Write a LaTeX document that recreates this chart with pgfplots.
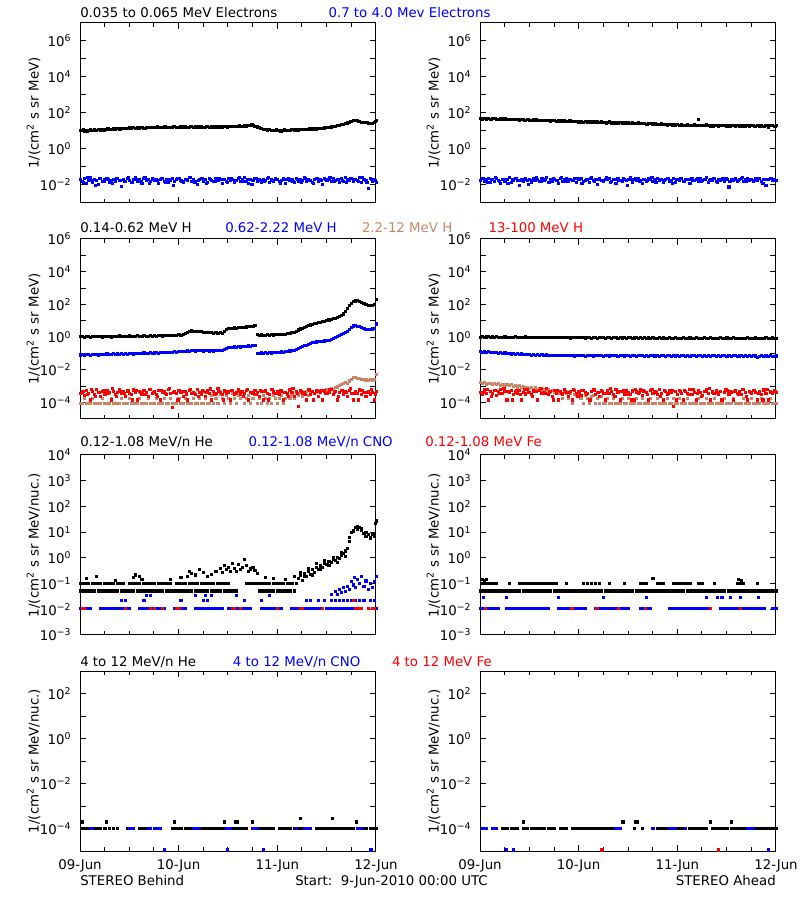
\documentclass[border=0pt]{standalone}
\usepackage{pgfplots}
\pgfplotsset{compat=1.18}
\usepackage{pgfplotstable}
\usepackage{fontspec}
\setmainfont{DejaVu Sans}
\definecolor{brn}{RGB}{204,132,104}
\newcommand{\tn}[1]{10\textsuperscript{#1}}
\pgfplotsset{
  stpanel/.style={
    scale only axis, width=222pt, height=135pt, anchor=south west,
    xmin=0, xmax=72,
    xtick={0,24,48,72}, minor xtick={6,12,18,30,36,42,54,60,66},
    xticklabels={},
    tick align=inside, major tick length=4.5pt, minor tick length=2.7pt,
    axis line style={line width=0.75pt},
    every tick/.append style={black, line width=0.75pt},
    tick label style={font=\fontsize{10}{12}\selectfont},
    yticklabel style={xshift=-3pt},
    xticklabel style={yshift=-3pt},
    label style={font=\fontsize{10}{12}\selectfont},
    every axis y label/.style={at={(axis description cs:-0.157,0.5)},rotate=90,anchor=center},
    ylabel={1/(cm\textsuperscript{2} s sr MeV)},
  },
  stdots/.style={only marks, mark=square*, mark size=0.8pt, mark options={line width=0.3pt}},
}
\pgfplotstableread[row sep=\\]{
t bk bl\\
0 10.5 0.021\\ 0.5 11.2 0.016\\ 1 10.2 0.024\\ 1.5 11.6 0.013\\ 2 10.8 0.019\\ 2.5 11.9 0.026\\
3 11.0 0.015\\ 3.5 12.2 0.022\\ 4 11.4 0.018\\ 4.5 12.6 0.011\\ 5 11.8 0.023\\ 5.5 12.4 0.017\\
6 13.0 0.020\\ 6.5 12.2 0.025\\ 7 13.1 0.014\\ 7.5 12.7 0.019\\ 8 13.8 0.022\\ 8.5 12.9 0.016\\
9 14.0 0.024\\ 9.5 13.3 0.018\\ 10 14.4 0.009\\ 10.5 13.6 0.021\\ 11 14.8 0.017\\ 11.5 14.1 0.023\\
12 15.2 0.019\\ 12.5 14.6 0.015\\ 13 15.5 0.022\\ 13.5 14.9 0.026\\ 14 16.1 0.017\\ 14.5 15.3 0.020\\
15 16.4 0.013\\ 15.5 15.0 0.024\\ 16 16.8 0.018\\ 16.5 15.6 0.021\\ 17 16.2 0.016\\ 17.5 15.4 0.023\\
18 16.9 0.018\\ 18.5 16.0 0.022\\ 19 17.1 0.012\\ 19.5 15.8 0.020\\ 20 16.6 0.025\\ 20.5 17.4 0.017\\
21 16.2 0.021\\ 21.5 15.7 0.015\\ 22 17.0 0.019\\ 22.5 16.4 0.024\\ 23 17.6 0.016\\ 23.5 16.1 0.020\\
24 16.8 0.023\\ 24.5 17.3 0.018\\ 25 16.5 0.014\\ 25.5 17.8 0.021\\ 26 16.9 0.019\\ 26.5 16.3 0.026\\
27 17.5 0.016\\ 27.5 16.7 0.022\\ 28 18.0 0.017\\ 28.5 17.2 0.011\\ 29 16.6 0.020\\ 29.5 17.9 0.024\\
30 17.0 0.017\\ 30.5 16.4 0.021\\ 31 17.6 0.015\\ 31.5 17.1 0.023\\ 32 18.2 0.019\\ 32.5 16.9 0.016\\
33 17.4 0.025\\ 33.5 18.1 0.018\\ 34 17.3 0.022\\ 34.5 16.8 0.013\\ 35 17.7 0.020\\ 35.5 18.4 0.017\\
36 17.5 0.024\\ 36.5 17.9 0.019\\ 37 18.6 0.021\\ 37.5 17.6 0.014\\ 38 18.9 0.018\\ 38.5 18.2 0.023\\
39 19.3 0.016\\ 39.5 18.6 0.020\\ 40 19.8 0.026\\ 40.5 19.1 0.017\\ 41 20.4 0.012\\ 41.5 21.5 0.022\\
42 20.2 0.019\\ 42.5 19.0 0.024\\ 43 17.2 0.016\\ 43.5 15.8 0.021\\ 44 14.2 0.015\\ 44.5 13.1 0.022\\
45 12.4 0.018\\ 45.5 11.6 0.025\\ 46 12.0 0.014\\ 46.5 11.2 0.020\\ 47 10.8 0.017\\ 47.5 11.5 0.023\\
48 10.6 0.021\\ 48.5 11.0 0.016\\ 49 10.4 0.019\\ 49.5 11.3 0.024\\ 50 10.9 0.013\\ 50.5 11.6 0.022\\
51 11.1 0.018\\ 51.5 12.0 0.020\\ 52 11.4 0.015\\ 52.5 12.2 0.023\\ 53 11.7 0.017\\ 53.5 12.5 0.021\\
54 12.0 0.019\\ 54.5 12.8 0.026\\ 55 12.3 0.016\\ 55.5 13.2 0.022\\ 56 12.6 0.018\\ 56.5 13.5 0.014\\
57 14.0 0.021\\ 57.5 13.3 0.024\\ 58 14.4 0.017\\ 58.5 14.8 0.020\\ 59 14.1 0.011\\ 59.5 15.3 0.023\\
60 15.9 0.018\\ 60.5 16.5 0.022\\ 61 17.2 0.016\\ 61.5 18.0 0.025\\ 62 19.1 0.019\\ 62.5 20.3 0.021\\
63 21.5 0.015\\ 63.5 22.8 0.023\\ 64 24.4 0.017\\ 64.5 26.5 0.027\\ 65 29.0 0.020\\ 65.5 32.0 0.018\\
66 35.5 0.024\\ 66.5 38.5 0.016\\ 67 40.5 0.021\\ 67.5 38.0 0.019\\ 68 35.2 0.026\\ 68.5 32.4 0.014\\
69 30.5 0.022\\ 69.5 29.2 0.018\\ 70 28.0 0.007\\ 70.5 27.4 0.023\\ 71 28.6 0.017\\ 71.5 31.5 0.020\\ 72 38.0 0.015\\
}\RoneL
\pgfplotstableread[row sep=\\]{
t bk bl\\
0.75 11.8 0.015\\ 1.75 10.4 0.027\\ 2.75 11.3 0.018\\ 3.75 11.0 0.010\\ 4.75 12.9 0.024\\ 5.75 11.9 0.016\\
6.75 13.4 0.022\\ 7.75 12.2 0.013\\ 8.75 14.3 0.025\\ 9.75 13.0 0.019\\ 10.75 15.0 0.016\\ 11.75 13.8 0.028\\
12.75 15.9 0.014\\ 13.75 14.4 0.021\\ 14.75 16.6 0.017\\ 15.75 15.1 0.026\\ 16.75 17.1 0.012\\ 17.75 15.6 0.022\\
18.75 17.6 0.018\\ 19.75 16.1 0.025\\ 20.75 17.9 0.015\\ 21.75 15.9 0.020\\ 22.75 17.8 0.010\\ 23.75 16.3 0.024\\
24.75 18.2 0.017\\ 25.75 16.4 0.021\\ 26.75 18.3 0.027\\ 27.75 16.6 0.015\\ 28.75 18.4 0.019\\ 29.75 16.5 0.023\\
30.75 18.5 0.013\\ 31.75 16.7 0.022\\ 32.75 18.6 0.017\\ 33.75 16.9 0.025\\ 34.75 18.7 0.020\\ 35.75 17.2 0.014\\
36.75 19.2 0.023\\ 37.75 17.9 0.018\\ 38.75 19.8 0.026\\ 39.75 18.8 0.016\\ 40.75 21.2 0.021\\ 41.75 22.4 0.011\\
42.75 18.1 0.024\\ 43.75 15.0 0.019\\ 44.75 12.9 0.016\\ 45.75 12.5 0.027\\ 46.75 10.9 0.018\\ 47.75 11.8 0.022\\
48.75 10.3 0.013\\ 49.75 11.8 0.020\\ 50.75 10.8 0.025\\ 51.75 12.4 0.017\\ 52.75 11.4 0.021\\ 53.75 12.9 0.015\\
54.75 12.1 0.023\\ 55.75 13.6 0.019\\ 56.75 13.0 0.012\\ 57.75 14.9 0.024\\ 58.75 14.0 0.018\\ 59.75 16.2 0.021\\
60.75 16.2 0.026\\ 61.75 19.2 0.016\\ 62.75 20.1 0.022\\ 63.75 24.5 0.019\\ 64.75 26.8 0.014\\ 65.75 35.0 0.024\\
66.75 41.5 0.020\\ 67.75 35.8 0.017\\ 68.75 30.3 0.027\\ 69.75 29.9 0.015\\ 70.75 26.6 0.021\\ 71.75 33.5 0.018\\
}\RoneLb
\pgfplotstableread[row sep=\\]{
t bk bl\\
0 51 0.018\\ 0.5 48 0.023\\ 1 52 0.016\\ 1.5 47 0.021\\ 2 50 0.025\\ 2.5 46 0.014\\
3 49 0.020\\ 3.5 52 0.017\\ 4 47 0.024\\ 4.5 45 0.019\\ 5 49 0.012\\ 5.5 46 0.022\\
6 48 0.017\\ 6.5 44 0.021\\ 7 47 0.026\\ 7.5 45 0.015\\ 8 43 0.019\\ 8.5 46 0.023\\
9 44 0.018\\ 9.5 42 0.010\\ 10 45 0.022\\ 10.5 43 0.016\\ 11 41 0.024\\ 11.5 44 0.019\\
12 42 0.021\\ 12.5 40 0.014\\ 13 43 0.025\\ 13.5 41 0.018\\ 14 39 0.020\\ 14.5 42 0.016\\
15 40 0.023\\ 15.5 38 0.019\\ 16 41 0.027\\ 16.5 39 0.015\\ 17 37 0.021\\ 17.5 40 0.017\\
18 38 0.022\\ 18.5 36 0.019\\ 19 39 0.013\\ 19.5 37 0.024\\ 20 35 0.017\\ 20.5 38 0.020\\
21 36 0.025\\ 21.5 34 0.016\\ 22 37 0.021\\ 22.5 35 0.018\\ 23 34 0.023\\ 23.5 36 0.014\\
24 33 0.020\\ 24.5 35 0.024\\ 25 32 0.017\\ 25.5 34 0.019\\ 26 31 0.022\\ 26.5 33 0.015\\
27 35 0.026\\ 27.5 32 0.018\\ 28 30 0.021\\ 28.5 33 0.011\\ 29 31 0.023\\ 29.5 34 0.019\\
30 32 0.016\\ 30.5 30 0.022\\ 31 31 0.020\\ 31.5 33 0.025\\ 32 29 0.017\\ 32.5 31 0.021\\
33 30 0.013\\ 33.5 28 0.024\\ 34 31 0.019\\ 34.5 29 0.016\\ 35 30 0.022\\ 35.5 28 0.018\\
36 29 0.020\\ 36.5 27 0.026\\ 37 30 0.015\\ 37.5 28 0.021\\ 38 26 0.018\\ 38.5 29 0.023\\
39 27 0.019\\ 39.5 28 0.012\\ 40 26 0.022\\ 40.5 25 0.017\\ 41 27 0.024\\ 41.5 26 0.020\\
42 24 0.016\\ 42.5 26 0.021\\ 43 25 0.025\\ 43.5 23 0.018\\ 44 26 0.022\\ 44.5 24 0.014\\
45 25 0.020\\ 45.5 22 0.024\\ 46 24 0.017\\ 46.5 23 0.019\\ 47 25 0.023\\ 47.5 22 0.015\\
48 23 0.021\\ 48.5 21 0.018\\ 49 24 0.025\\ 49.5 22 0.016\\ 50 20 0.020\\ 50.5 23 0.022\\
51 22 0.013\\ 51.5 21 0.024\\ 52 23 0.019\\ 52.5 20 0.021\\ 53 44 0.017\\ 53.5 21 0.023\\
54 22 0.018\\ 54.5 20 0.020\\ 55 23 0.026\\ 55.5 21 0.015\\ 56 19 0.022\\ 56.5 22 0.019\\
57 20 0.024\\ 57.5 21 0.016\\ 58 19 0.021\\ 58.5 22 0.018\\ 59 20 0.023\\ 59.5 21 0.017\\
60 19 0.020\\ 60.5 21 0.008\\ 61 20 0.022\\ 61.5 22 0.019\\ 62 18 0.025\\ 62.5 21 0.016\\
63 19 0.021\\ 63.5 20 0.023\\ 64 22 0.017\\ 64.5 19 0.020\\ 65 21 0.024\\ 65.5 18 0.018\\
66 20 0.021\\ 66.5 22 0.016\\ 67 19 0.023\\ 67.5 21 0.019\\ 68 18 0.025\\ 68.5 20 0.017\\
69 19 0.022\\ 69.5 21 0.010\\ 70 17 0.020\\ 70.5 20 0.024\\ 71 22 0.018\\ 71.5 19 0.022\\ 72 21 0.019\\
}\RoneR
\pgfplotstableread[row sep=\\]{
t bk bl\\
0.75 49 0.024\\ 1.75 53 0.015\\ 2.75 47 0.021\\ 3.75 50 0.028\\ 4.75 46 0.017\\ 5.75 49 0.022\\
6.75 45 0.013\\ 7.75 47 0.020\\ 8.75 43 0.025\\ 9.75 46 0.018\\ 10.75 42 0.022\\ 11.75 45 0.011\\
12.75 41 0.019\\ 13.75 43 0.026\\ 14.75 39 0.017\\ 15.75 41 0.021\\ 16.75 38 0.014\\ 17.75 40 0.023\\
18.75 36 0.019\\ 19.75 38 0.027\\ 20.75 35 0.016\\ 21.75 37 0.021\\ 22.75 34 0.018\\ 23.75 35 0.024\\
24.75 32 0.012\\ 25.75 34 0.020\\ 26.75 31 0.025\\ 27.75 33 0.017\\ 28.75 30 0.022\\ 29.75 32 0.019\\
30.75 29 0.026\\ 31.75 31 0.015\\ 32.75 28 0.021\\ 33.75 30 0.018\\ 34.75 27 0.023\\ 35.75 29 0.010\\
36.75 27 0.020\\ 37.75 28 0.024\\ 38.75 26 0.017\\ 39.75 27 0.022\\ 40.75 25 0.019\\ 41.75 26 0.026\\
42.75 24 0.015\\ 43.75 25 0.021\\ 44.75 23 0.018\\ 45.75 24 0.023\\ 46.75 22 0.013\\ 47.75 23 0.020\\
48.75 22 0.025\\ 49.75 21 0.017\\ 50.75 22 0.022\\ 51.75 20 0.019\\ 52.75 21 0.024\\ 53.75 22 0.016\\
54.75 20 0.021\\ 55.75 21 0.018\\ 56.75 19 0.025\\ 57.75 22 0.014\\ 58.75 20 0.020\\ 59.75 21 0.023\\
60.75 19 0.017\\ 61.75 20 0.022\\ 62.75 22 0.019\\ 63.75 19 0.026\\ 64.75 21 0.016\\ 65.75 20 0.021\\
66.75 18 0.018\\ 67.75 21 0.024\\ 68.75 19 0.013\\ 69.75 22 0.020\\ 70.75 20 0.023\\ 71.75 19 0.018\\
}\RoneRb
\pgfplotstableread[row sep=\\]{
t bk bl br rd\\
0 1.10 0.085 9e-5 3.8e-4\\ 0.5 1.18 0.090 9e-5 4.7e-4\\ 1 1.05 0.081 1.9e-4 3.0e-4\\ 1.5 1.14 0.088 9e-5 5.7e-4\\ 2 1.20 0.093 9e-5 4.0e-4\\ 2.5 1.04 0.084 9e-5 1.5e-4\\
3 1.12 0.089 1.9e-4 5.1e-4\\ 3.5 1.17 0.086 9e-5 3.4e-4\\ 4 1.08 0.094 9e-5 6.5e-4\\ 4.5 1.21 0.085 9e-5 4.3e-4\\ 5 1.13 0.091 9e-5 2.4e-4\\ 5.5 1.07 0.088 1.9e-4 4.9e-4\\
6 1.17 0.092 9e-5 3.5e-4\\ 6.5 1.11 0.097 9e-5 5.9e-4\\ 7 1.20 0.089 9e-5 4.2e-4\\ 7.5 1.06 0.094 1.9e-4 1.5e-4\\ 8 1.15 0.099 9e-5 5.3e-4\\ 8.5 1.19 0.092 9e-5 3.2e-4\\
9 1.10 0.098 9e-5 4.5e-4\\ 9.5 1.23 0.093 9e-5 7.0e-4\\ 10 1.14 0.102 1.9e-4 3.6e-4\\ 10.5 1.09 0.096 9e-5 5.0e-4\\ 11 1.18 0.101 9e-5 2.4e-4\\ 11.5 1.13 0.095 9e-5 5.4e-4\\
12 1.22 0.100 1.9e-4 4.0e-4\\ 12.5 1.16 0.106 9e-5 3.1e-4\\ 13 1.11 0.098 9e-5 6.2e-4\\ 13.5 1.21 0.104 9e-5 4.6e-4\\ 14 1.27 0.109 9e-5 1.5e-4\\ 14.5 1.15 0.102 1.9e-4 5.1e-4\\
15 1.19 0.107 9e-5 3.5e-4\\ 15.5 1.25 0.112 9e-5 5.5e-4\\ 16 1.13 0.105 9e-5 4.2e-4\\ 16.5 1.21 0.110 1.9e-4 2.4e-4\\ 17 1.29 0.116 9e-5 6.8e-4\\ 17.5 1.19 0.108 9e-5 3.9e-4\\
18 1.25 0.113 9e-5 4.9e-4\\ 18.5 1.18 0.119 1.9e-4 3.4e-4\\ 19 1.28 0.111 9e-5 5.8e-4\\ 19.5 1.33 0.117 9e-5 1.5e-4\\ 20 1.22 0.123 9e-5 4.3e-4\\ 20.5 1.27 0.115 1.9e-4 5.3e-4\\
21 1.36 0.121 9e-5 3.2e-4\\ 21.5 1.25 0.127 9e-5 6.3e-4\\ 22 1.31 0.119 1.9e-4 4.0e-4\\ 22.5 1.40 0.126 9e-5 5.5e-5\\ 23 1.30 0.132 9e-5 4.7e-4\\ 23.5 1.36 0.125 9e-5 3.6e-4\\
24 1.45 0.135 1.9e-4 5.5e-4\\ 24.5 1.40 0.140 9e-5 4.5e-4\\ 25 1.55 0.133 9e-5 2.4e-4\\ 25.5 1.70 0.142 1.9e-4 5.0e-4\\ 26 1.95 0.150 9e-5 1.5e-4\\ 26.5 2.25 0.145 9e-5 6.1e-4\\
27 2.50 0.155 9e-5 3.8e-4\\ 27.5 2.40 0.160 1.9e-4 4.6e-4\\ 28 2.30 0.150 9e-5 3.2e-4\\ 28.5 2.40 0.158 9e-5 6.6e-4\\ 29 2.20 0.152 1.9e-4 4.2e-4\\ 29.5 2.25 0.156 9e-5 3.5e-4\\
30 2.10 0.148 9e-5 5.1e-4\\ 30.5 2.00 0.155 1.9e-4 2.4e-4\\ 31 2.10 0.160 9e-5 5.7e-4\\ 31.5 1.90 0.150 9e-5 4.0e-4\\ 32 1.95 0.157 2.8e-4 1.5e-4\\ 32.5 1.80 0.149 9e-5 4.9e-4\\
33 1.90 0.154 1.9e-4 3.6e-4\\ 33.5 1.85 0.160 9e-5 7.2e-4\\ 34 1.95 0.152 3.5e-4 4.5e-4\\ 34.5 1.85 0.158 1.9e-4 3.1e-4\\ 35 2.40 0.190 9e-5 5.4e-4\\ 35.5 3.00 0.220 2.8e-4 3.9e-4\\
36 3.40 0.235 1.9e-4 4.7e-4\\ 36.5 3.60 0.250 9e-5 1.5e-4\\ 37 3.50 0.240 3.8e-4 5.9e-4\\ 37.5 3.80 0.260 1.9e-4 3.5e-4\\ 38 3.70 0.250 9e-5 4.3e-4\\ 38.5 4.00 0.270 2.8e-4 6.5e-4\\
39 3.90 0.262 1.9e-4 3.2e-4\\ 39.5 4.20 0.280 4.2e-4 5.0e-4\\ 40 4.10 0.270 9e-5 3.9e-4\\ 40.5 4.40 0.290 1.9e-4 5.5e-4\\ 41 4.70 0.300 2.8e-4 1.5e-4\\ 41.5 4.50 0.285 9e-5 4.6e-4\\
42 4.90 0.305 1.9e-4 3.6e-4\\ 42.5 5.10 0.310 3.2e-4 6.1e-4\\ 43 1.45 0.108 9e-5 4.2e-4\\ 43.5 1.38 0.102 1.9e-4 2.4e-4\\ 44 1.42 0.112 9e-5 5.1e-4\\ 44.5 1.35 0.106 2.8e-4 1.5e-4\\
45 1.40 0.115 1.9e-4 5.8e-4\\ 45.5 1.48 0.110 9e-5 4.0e-4\\ 46 1.40 0.118 1.9e-4 3.4e-4\\ 46.5 1.46 0.113 9e-5 6.9e-4\\ 47 1.42 0.121 2.8e-4 4.7e-4\\ 47.5 1.50 0.116 1.9e-4 3.8e-4\\
48 1.45 0.125 9e-5 5.3e-4\\ 48.5 1.55 0.120 1.9e-4 3.1e-4\\ 49 1.50 0.130 2.8e-4 5.4e-4\\ 49.5 1.60 0.126 9e-5 1.5e-4\\ 50 1.56 0.135 1.9e-4 4.5e-4\\ 50.5 1.68 0.140 3.2e-4 3.5e-4\\
51 1.75 0.148 1.9e-4 6.2e-4\\ 51.5 1.90 0.158 2.8e-4 4.2e-4\\ 52 2.10 0.170 1.9e-4 2.4e-4\\ 52.5 2.45 0.190 3.8e-4 4.9e-4\\ 53 2.85 0.215 2.8e-4 6.0e-5\\ 53.5 3.30 0.245 4.2e-4 5.7e-4\\
54 3.7 0.28 2.4e-4 3.9e-4\\ 54.5 4.2 0.31 3.5e-4 4.6e-4\\ 55 4.6 0.34 4.8e-4 1.5e-4\\ 55.5 5.2 0.38 2.8e-4 6.3e-4\\ 56 5.8 0.44 3.8e-4 3.4e-4\\ 56.5 6.4 0.47 5.0e-4 5.0e-4\\
57 6.9 0.50 3.6e-4 4.0e-4\\ 57.5 7.4 0.53 4.5e-4 5.8e-4\\ 58 8.0 0.55 5.6e-4 2.4e-4\\ 58.5 8.6 0.57 4.2e-4 4.7e-4\\ 59 9.3 0.59 5.5e-4 1.5e-4\\ 59.5 10.0 0.61 6.0e-4 5.4e-4\\
60 10.6 0.63 6.2e-4 3.6e-4\\ 60.5 11.6 0.68 5.2e-4 4.3e-4\\ 61 12.5 0.75 7.5e-4 6.6e-4\\ 61.5 13.8 0.84 6.5e-4 3.2e-4\\ 62 15.0 0.95 8.5e-4 5.1e-4\\ 62.5 16.5 1.10 9.5e-4 1.5e-4\\
63 18.5 1.30 1.1e-3 4.2e-4\\ 63.5 21 1.55 1.3e-3 5.9e-4\\ 64 27 1.80 1.5e-3 3.5e-4\\ 64.5 38 2.00 1.7e-3 4.9e-4\\ 65 60 2.20 1.6e-3 2.4e-4\\ 65.5 90 3.00 2.2e-3 5.5e-4\\
66 125 4.2 2.8e-3 4.0e-4\\ 66.5 155 5.0 3.4e-3 1.5e-4\\ 67 170 5.1 3.8e-3 5.0e-4\\ 67.5 172 4.9 3.2e-3 3.8e-4\\ 68 160 4.5 3.0e-3 6.2e-4\\ 68.5 145 4.0 2.6e-3 3.1e-4\\
69 123 3.5 2.8e-3 4.6e-4\\ 69.5 105 3.2 2.5e-3 2.4e-4\\ 70 90 3.1 2.4e-3 5.3e-4\\ 70.5 88 3.2 2.6e-3 3.5e-4\\ 71 95 3.3 2.5e-3 4.3e-4\\ 71.5 100 3.4 2.7e-3 1.5e-4\\ 72 215 6.7 5.6e-3 4.9e-4\\
}\RtwoL
\pgfplotstableread[row sep=\\]{
t rd\\
0.75 5.2e-4\\ 1.75 3.3e-4\\ 2.75 6.8e-4\\ 3.75 2.4e-4\\ 4.75 4.4e-4\\ 5.75 5.9e-4\\ 6.75 3.6e-4\\ 7.75 7.5e-4\\ 8.75 2.4e-4\\ 9.75 4.8e-4\\ 10.75 3.9e-4\\ 11.75 6.1e-4\\
12.75 1.5e-4\\ 13.75 5.5e-4\\ 14.75 4.1e-4\\ 15.75 3.2e-4\\ 16.75 6.6e-4\\ 17.75 4.6e-4\\ 18.75 2.4e-4\\ 19.75 5.7e-4\\ 20.75 3.7e-4\\ 21.75 8.0e-4\\ 22.75 4.3e-4\\ 23.75 1.5e-4\\
24.75 5.0e-4\\ 25.75 3.5e-4\\ 26.75 6.3e-4\\ 27.75 4.0e-4\\ 28.75 2.4e-4\\ 29.75 5.6e-4\\ 30.75 4.5e-4\\ 31.75 7.1e-4\\ 32.75 3.3e-4\\ 33.75 5.3e-4\\ 34.75 1.5e-4\\ 35.75 4.7e-4\\
36.75 6.0e-4\\ 37.75 3.8e-4\\ 38.75 5.1e-4\\ 39.75 2.4e-4\\ 40.75 6.7e-4\\ 41.75 4.2e-4\\ 42.75 3.4e-4\\ 43.75 5.8e-4\\ 44.75 4.9e-4\\ 45.75 1.5e-4\\ 46.75 6.4e-4\\ 47.75 3.7e-4\\
48.75 5.4e-4\\ 49.75 4.4e-4\\ 50.75 2.4e-4\\ 51.75 7.3e-4\\ 52.75 4.0e-4\\ 53.75 5.2e-4\\ 54.75 3.1e-4\\ 55.75 6.2e-4\\ 56.75 1.5e-4\\ 57.75 4.8e-4\\ 58.75 5.7e-4\\ 59.75 3.6e-4\\
60.75 6.9e-4\\ 61.75 4.3e-4\\ 62.75 2.4e-4\\ 63.75 5.5e-4\\ 64.75 4.6e-4\\ 65.75 7.8e-4\\ 66.75 3.9e-4\\ 67.75 1.5e-4\\ 68.75 5.9e-4\\ 69.75 4.1e-4\\ 70.75 6.5e-4\\ 71.75 3.5e-4\\
}\RtwoLb
\pgfplotstableread[row sep=\\]{
t bk bl br rd\\
0 1.04 0.135 1.7e-3 4.6e-4\\ 0.5 1.09 0.128 1.5e-3 3.4e-4\\ 1 1.00 0.140 1.8e-3 6.2e-4\\ 1.5 1.06 0.124 1.4e-3 4.0e-4\\ 2 1.11 0.131 1.6e-3 1.5e-4\\ 2.5 1.01 0.119 1.5e-3 5.3e-4\\
3 1.07 0.126 1.35e-3 3.8e-4\\ 3.5 1.03 0.115 1.55e-3 5.8e-4\\ 4 1.10 0.121 1.3e-3 3.0e-4\\ 4.5 0.99 0.110 1.45e-3 4.9e-4\\ 5 1.05 0.117 1.2e-3 6.8e-4\\ 5.5 1.02 0.106 1.35e-3 3.6e-4\\
6 1.06 0.112 1.25e-3 5.1e-4\\ 6.5 1.00 0.102 1.4e-3 1.5e-4\\ 7 1.04 0.108 1.1e-3 4.3e-4\\ 7.5 0.98 0.098 1.3e-3 6.1e-4\\ 8 1.03 0.104 1.05e-3 3.2e-4\\ 8.5 1.08 0.094 1.2e-3 4.7e-4\\
9 0.99 0.100 9.5e-4 3.9e-4\\ 9.5 1.04 0.091 1.1e-3 5.5e-4\\ 10 0.97 0.097 8.8e-4 1.5e-4\\ 10.5 1.02 0.088 1.0e-3 4.5e-4\\ 11 1.06 0.094 8.2e-4 3.5e-4\\ 11.5 0.98 0.086 9.2e-4 6.5e-4\\
12 1.03 0.091 7.8e-4 4.2e-4\\ 12.5 0.97 0.084 8.8e-4 3.1e-4\\ 13 1.01 0.089 7.0e-4 5.4e-4\\ 13.5 1.05 0.082 8.2e-4 4.9e-4\\ 14 0.96 0.088 6.4e-4 1.5e-4\\ 14.5 1.02 0.080 7.5e-4 5.9e-4\\
15 0.98 0.086 5.8e-4 3.6e-4\\ 15.5 1.03 0.079 6.8e-4 4.5e-4\\ 16 0.95 0.085 5.3e-4 7.3e-4\\ 16.5 1.01 0.081 6.2e-4 3.4e-4\\ 17 0.97 0.077 4.8e-4 5.0e-4\\ 17.5 1.02 0.084 5.6e-4 2.4e-4\\
18 0.96 0.080 4.5e-4 5.7e-4\\ 18.5 1.00 0.076 5.2e-4 4.0e-4\\ 19 1.03 0.083 4.0e-4 1.5e-4\\ 19.5 0.95 0.079 4.7e-4 5.1e-4\\ 20 0.99 0.075 1.9e-4 3.5e-4\\ 20.5 0.94 0.082 4.2e-4 6.3e-4\\
21 1.01 0.078 3.6e-4 4.3e-4\\ 21.5 0.97 0.084 1.9e-4 2.4e-4\\ 22 0.93 0.076 3.8e-4 5.3e-4\\ 22.5 1.00 0.080 9e-5 1.5e-4\\ 23 0.96 0.074 3.2e-4 5.5e-4\\ 23.5 0.99 0.079 2.8e-4 3.9e-4\\
24 0.94 0.083 3.4e-4 4.7e-4\\ 24.5 0.98 0.075 1.9e-4 3.0e-4\\ 25 1.01 0.079 9e-5 6.1e-4\\ 25.5 0.93 0.073 2.9e-4 4.2e-4\\ 26 0.97 0.081 1.9e-4 3.6e-4\\ 26.5 0.99 0.077 9e-5 1.5e-4\\
27 0.92 0.082 2.4e-4 5.0e-4\\ 27.5 0.98 0.074 2.8e-4 6.6e-4\\ 28 0.95 0.078 9e-5 3.4e-4\\ 28.5 0.91 0.083 1.9e-4 4.6e-4\\ 29 0.97 0.075 9e-5 2.4e-4\\ 29.5 0.94 0.079 2.4e-4 5.4e-4\\
30 0.98 0.073 9e-5 4.0e-4\\ 30.5 0.92 0.078 9e-5 1.5e-4\\ 31 0.95 0.082 1.9e-4 5.8e-4\\ 31.5 0.99 0.074 9e-5 3.8e-4\\ 32 0.91 0.079 9e-5 4.9e-4\\ 32.5 0.94 0.075 1.9e-4 3.1e-4\\
33 0.97 0.081 9e-5 6.9e-4\\ 33.5 0.90 0.072 9e-5 4.3e-4\\ 34 0.95 0.077 9e-5 1.5e-4\\ 34.5 0.93 0.081 1.9e-4 5.3e-4\\ 35 0.98 0.074 9e-5 3.5e-4\\ 35.5 0.91 0.078 9e-5 5.9e-4\\
36 0.94 0.082 1.9e-4 4.5e-4\\ 36.5 0.97 0.073 9e-5 3.2e-4\\ 37 0.90 0.077 9e-5 5.4e-4\\ 37.5 0.93 0.080 9e-5 1.5e-4\\ 38 0.96 0.072 1.9e-4 4.7e-4\\ 38.5 0.89 0.078 9e-5 3.9e-4\\
39 0.94 0.075 9e-5 6.2e-4\\ 39.5 0.92 0.081 1.9e-4 3.0e-4\\ 40 0.97 0.073 9e-5 5.0e-4\\ 40.5 0.90 0.077 9e-5 4.2e-4\\ 41 0.93 0.071 9e-5 1.5e-4\\ 41.5 0.91 0.076 1.9e-4 5.7e-4\\
42 0.96 0.080 9e-5 3.6e-4\\ 42.5 0.89 0.074 9e-5 5.1e-4\\ 43 0.92 0.078 1.9e-4 3.1e-4\\ 43.5 0.95 0.071 9e-5 6.5e-4\\ 44 0.90 0.077 9e-5 4.0e-4\\ 44.5 0.93 0.081 9e-5 1.5e-4\\
45 0.88 0.073 9e-5 4.9e-4\\ 45.5 0.92 0.076 1.9e-4 3.5e-4\\ 46 0.96 0.080 9e-5 5.5e-4\\ 46.5 0.89 0.072 9e-5 4.5e-4\\ 47 0.91 0.077 1.9e-4 6.0e-5\\ 47.5 0.94 0.074 9e-5 5.3e-4\\
48 0.90 0.078 9e-5 3.4e-4\\ 48.5 0.92 0.071 1.9e-4 5.9e-4\\ 49 0.88 0.076 9e-5 4.0e-4\\ 49.5 0.95 0.080 9e-5 1.5e-4\\ 50 0.91 0.073 9e-5 5.0e-4\\ 50.5 0.89 0.077 1.9e-4 3.8e-4\\
51 0.93 0.070 9e-5 7.0e-4\\ 51.5 0.87 0.076 9e-5 3.2e-4\\ 52 0.91 0.079 9e-5 4.6e-4\\ 52.5 0.95 0.072 9e-5 1.5e-4\\ 53 0.89 0.075 1.9e-4 5.4e-4\\ 53.5 0.92 0.078 9e-5 4.2e-4\\
54 0.90 0.071 9e-5 3.0e-4\\ 54.5 0.94 0.076 9e-5 5.1e-4\\ 55 0.88 0.073 1.9e-4 6.2e-4\\ 55.5 0.91 0.077 9e-5 3.6e-4\\ 56 0.95 0.070 9e-5 1.5e-4\\ 56.5 0.89 0.075 9e-5 4.7e-4\\
57 0.92 0.079 1.9e-4 4.0e-4\\ 57.5 0.87 0.072 9e-5 5.8e-4\\ 58 0.91 0.076 9e-5 3.4e-4\\ 58.5 0.94 0.071 9e-5 5.3e-4\\ 59 0.89 0.075 9e-5 1.5e-4\\ 59.5 0.91 0.078 1.9e-4 4.3e-4\\
60 0.93 0.072 9e-5 6.1e-4\\ 60.5 0.88 0.076 9e-5 3.5e-4\\ 61 0.90 0.070 9e-5 4.6e-4\\ 61.5 0.94 0.075 1.9e-4 1.5e-4\\ 62 0.89 0.078 9e-5 5.5e-4\\ 62.5 0.91 0.071 9e-5 3.9e-4\\
63 0.87 0.074 9e-5 5.0e-4\\ 63.5 0.92 0.077 9e-5 3.1e-4\\ 64 0.90 0.069 1.9e-4 6.5e-4\\ 64.5 0.88 0.075 9e-5 4.2e-4\\ 65 0.94 0.072 9e-5 1.5e-4\\ 65.5 0.89 0.076 9e-5 4.9e-4\\
66 0.91 0.071 1.9e-4 3.8e-4\\ 66.5 0.88 0.075 9e-5 5.7e-4\\ 67 0.93 0.074 9e-5 4.5e-4\\ 67.5 0.90 0.060 9e-5 1.5e-4\\ 68 0.87 0.072 9e-5 5.3e-4\\ 68.5 0.91 0.076 1.9e-4 3.4e-4\\
69 0.89 0.070 9e-5 6.2e-4\\ 69.5 0.94 0.074 9e-5 4.0e-4\\ 70 0.88 0.071 9e-5 1.5e-4\\ 70.5 0.90 0.075 1.9e-4 4.7e-4\\ 71 0.93 0.069 9e-5 3.6e-4\\ 71.5 0.89 0.073 9e-5 5.4e-4\\ 72 0.92 0.074 9e-5 4.3e-4\\
}\RtwoR
\pgfplotstableread[row sep=\\]{
t rd\\
0.75 4.4e-4\\ 1.75 6.3e-4\\ 2.75 2.4e-4\\ 3.75 5.5e-4\\ 4.75 3.7e-4\\ 5.75 7.2e-4\\ 6.75 4.9e-4\\ 7.75 1.5e-4\\ 8.75 5.8e-4\\ 9.75 3.4e-4\\ 10.75 6.6e-4\\ 11.75 4.1e-4\\
12.75 2.4e-4\\ 13.75 5.3e-4\\ 14.75 7.7e-4\\ 15.75 3.9e-4\\ 16.75 4.7e-4\\ 17.75 1.5e-4\\ 18.75 6.0e-4\\ 19.75 3.6e-4\\ 20.75 5.1e-4\\ 21.75 4.3e-4\\ 22.75 6.8e-4\\ 23.75 2.4e-4\\
24.75 5.6e-4\\ 25.75 3.3e-4\\ 26.75 1.5e-4\\ 27.75 6.2e-4\\ 28.75 4.5e-4\\ 29.75 5.2e-4\\ 30.75 3.8e-4\\ 31.75 7.4e-4\\ 32.75 2.4e-4\\ 33.75 4.9e-4\\ 34.75 5.9e-4\\ 35.75 3.5e-4\\
36.75 1.5e-4\\ 37.75 6.5e-4\\ 38.75 4.2e-4\\ 39.75 5.4e-4\\ 40.75 3.1e-4\\ 41.75 7.0e-4\\ 42.75 4.6e-4\\ 43.75 2.4e-4\\ 44.75 5.7e-4\\ 45.75 3.9e-4\\ 46.75 6.1e-4\\ 47.75 1.5e-4\\
48.75 4.8e-4\\ 49.75 5.5e-4\\ 50.75 3.4e-4\\ 51.75 6.7e-4\\ 52.75 4.0e-4\\ 53.75 2.4e-4\\ 54.75 5.0e-4\\ 55.75 7.6e-4\\ 56.75 3.7e-4\\ 57.75 4.4e-4\\ 58.75 1.5e-4\\ 59.75 6.3e-4\\
60.75 4.7e-4\\ 61.75 5.3e-4\\ 62.75 3.2e-4\\ 63.75 6.9e-4\\ 64.75 2.4e-4\\ 65.75 4.5e-4\\ 66.75 5.8e-4\\ 67.75 3.6e-4\\ 68.75 1.5e-4\\ 69.75 6.4e-4\\ 70.75 4.2e-4\\ 71.75 5.1e-4\\
}\RtwoRb
\pgfplotstableread[row sep=\\]{
t hA hB cA\\
0 0.1 0.053 0.011\\ 0.5 0.1 0.053 0.011\\ 1 0.1 0.053 0.011\\ 1.5 0.1 0.053 0.011\\ 2 0.1 0.053 0.011\\ 2.5 nan 0.053 0.011\\
3 0.1 0.053 nan\\ 3.5 0.1 0.053 nan\\ 4 0.1 nan nan\\ 4.5 0.1 0.053 nan\\ 5 0.1 0.053 0.011\\ 5.5 nan 0.053 0.011\\
6 0.1 0.053 0.011\\ 6.5 0.1 0.053 0.011\\ 7 0.1 0.053 0.011\\ 7.5 0.1 0.053 0.011\\ 8 0.1 0.053 0.011\\ 8.5 nan 0.053 0.011\\
9 0.1 0.053 0.011\\ 9.5 0.1 nan 0.011\\ 10 0.1 0.053 0.011\\ 10.5 0.1 0.053 0.011\\ 11 nan 0.053 0.011\\ 11.5 nan 0.053 0.011\\
12 0.1 0.053 0.011\\ 12.5 0.1 0.053 nan\\ 13 0.1 0.053 nan\\ 13.5 0.1 nan nan\\ 14 0.1 0.053 nan\\ 14.5 0.1 0.053 0.011\\
15 nan 0.053 0.011\\ 15.5 0.1 0.053 0.011\\ 16 0.1 0.053 0.011\\ 16.5 0.1 0.053 0.011\\ 17 0.1 0.053 0.011\\ 17.5 0.1 0.053 0.011\\
18 0.1 0.053 0.011\\ 18.5 nan 0.053 0.011\\ 19 0.1 0.053 0.011\\ 19.5 0.1 0.053 0.011\\ 20 0.1 0.053 0.011\\ 20.5 0.1 nan 0.011\\
21 0.1 0.053 nan\\ 21.5 0.1 0.053 nan\\ 22 0.1 0.053 nan\\ 22.5 nan 0.053 nan\\ 23 nan 0.053 0.011\\ 23.5 0.1 0.053 0.011\\
24 0.1 0.053 0.011\\ 24.5 0.1 0.053 0.011\\ 25 0.1 0.053 0.011\\ 25.5 0.1 0.053 0.011\\ 26 nan 0.053 nan\\ 26.5 0.1 0.053 nan\\
27 0.1 0.053 nan\\ 27.5 0.1 nan nan\\ 28 0.1 0.053 0.011\\ 28.5 0.1 0.053 0.011\\ 29 nan 0.053 0.011\\ 29.5 0.1 0.053 0.011\\
30 0.1 0.053 0.011\\ 30.5 0.1 0.053 0.011\\ 31 0.1 0.053 0.011\\ 31.5 0.1 nan 0.011\\ 32 0.1 0.053 0.011\\ 32.5 0.1 0.053 0.011\\
33 nan 0.053 0.011\\ 33.5 0.1 0.053 0.011\\ 34 0.1 0.053 0.011\\ 34.5 0.1 nan 0.011\\ 35 0.1 0.053 nan\\ 35.5 0.1 0.053 nan\\
36 0.1 0.053 0.011\\ 36.5 nan 0.053 0.011\\ 37 nan 0.053 0.011\\ 37.5 nan 0.053 0.011\\ 38 nan 0.053 0.011\\ 38.5 nan nan 0.011\\
39 nan nan 0.011\\ 39.5 nan nan 0.011\\ 40 nan nan 0.011\\ 40.5 0.1 nan 0.011\\ 41 0.1 nan 0.011\\ 41.5 0.1 nan 0.011\\
42 0.1 nan nan\\ 42.5 0.1 nan nan\\ 43 0.1 nan nan\\ 43.5 0.1 0.053 nan\\ 44 0.1 0.053 0.011\\ 44.5 0.1 0.053 0.011\\
45 0.1 0.053 0.011\\ 45.5 0.1 0.053 0.011\\ 46 0.1 0.053 0.011\\ 46.5 nan 0.053 0.011\\ 47 0.1 0.053 0.011\\ 47.5 0.1 nan 0.011\\
48 0.1 0.053 0.011\\ 48.5 0.1 0.053 0.011\\ 49 0.1 0.053 0.011\\ 49.5 0.1 0.053 nan\\ 50 nan 0.053 nan\\ 50.5 0.1 0.053 nan\\
51 0.1 0.053 nan\\ 51.5 0.1 nan 0.011\\ 52 nan 0.053 0.011\\ 52.5 0.1 nan 0.011\\ 53 0.16 nan 0.011\\ 53.5 0.22 nan 0.011\\
54 0.14 nan 0.011\\ 54.5 0.25 nan 0.011\\ 55 0.19 nan 0.011\\ 55.5 0.3 nan 0.011\\ 56 0.24 nan 0.011\\ 56.5 0.35 nan 0.011\\
57 0.28 nan 0.011\\ 57.5 0.42 nan 0.011\\ 58 0.36 nan 0.011\\ 58.5 0.5 nan 0.011\\ 59 0.45 nan nan\\ 59.5 0.62 nan nan\\
60 0.55 nan 0.011\\ 60.5 0.75 nan 0.011\\ 61 0.68 nan 0.011\\ 61.5 0.9 nan 0.011\\ 62 0.82 nan 0.011\\ 62.5 1.1 nan 0.011\\
63 1.0 nan 0.011\\ 63.5 1.3 nan 0.011\\ 64 1.5 nan 0.011\\ 64.5 1.9 nan 0.011\\ 65 2.4 nan 0.011\\ 65.5 6.5 nan 0.011\\
66 10 nan 0.011\\ 66.5 12 nan 0.011\\ 67 15 nan 0.011\\ 67.5 13 nan 0.011\\ 68 16 nan 0.011\\ 68.5 12 nan 0.011\\
69 9 nan nan\\ 69.5 7 nan nan\\ 70 8 nan nan\\ 70.5 6 nan nan\\ 71 8.5 nan 0.011\\ 71.5 7 nan 0.011\\ 72 28 nan 0.011\\
}\RthreeL
\pgfplotstableread[row sep=\\]{
t hB cA\\
0 0.053 0.011\\ 0.5 0.053 0.011\\ 1 0.053 0.011\\ 1.5 0.053 0.011\\ 2 0.053 0.011\\ 2.5 0.053 0.011\\
3 0.053 0.011\\ 3.5 0.053 0.011\\ 4 0.053 0.011\\ 4.5 0.053 0.011\\ 5 0.053 nan\\ 5.5 0.053 nan\\
6 0.053 nan\\ 6.5 0.053 0.011\\ 7 0.053 0.011\\ 7.5 0.053 0.011\\ 8 0.053 0.011\\ 8.5 0.053 0.011\\
9 0.053 0.011\\ 9.5 0.053 0.011\\ 10 nan 0.011\\ 10.5 0.053 0.011\\ 11 0.053 0.011\\ 11.5 0.053 0.011\\
12 0.053 0.011\\ 12.5 0.053 0.011\\ 13 0.053 0.011\\ 13.5 0.053 0.011\\ 14 0.053 0.011\\ 14.5 0.053 0.011\\
15 0.053 0.011\\ 15.5 0.053 0.011\\ 16 0.053 0.011\\ 16.5 0.053 0.011\\ 17 0.053 nan\\ 17.5 nan nan\\
18 0.053 nan\\ 18.5 0.053 nan\\ 19 0.053 0.011\\ 19.5 0.053 0.011\\ 20 0.053 0.011\\ 20.5 0.053 0.011\\
21 0.053 0.011\\ 21.5 0.053 0.011\\ 22 0.053 0.011\\ 22.5 0.053 0.011\\ 23 0.053 0.011\\ 23.5 0.053 0.011\\
24 0.053 0.011\\ 24.5 0.053 0.011\\ 25 0.053 0.011\\ 25.5 0.053 0.011\\ 26 0.053 nan\\ 26.5 0.053 nan\\
27 0.053 nan\\ 27.5 0.053 nan\\ 28 0.053 0.011\\ 28.5 0.053 0.011\\ 29 0.053 0.011\\ 29.5 0.053 0.011\\
30 nan 0.011\\ 30.5 0.053 0.011\\ 31 0.053 0.011\\ 31.5 0.053 0.011\\ 32 0.053 0.011\\ 32.5 0.053 0.011\\
33 0.053 0.011\\ 33.5 0.053 0.011\\ 34 0.053 0.011\\ 34.5 0.053 0.011\\ 35 0.053 0.011\\ 35.5 0.053 0.011\\
36 0.053 0.011\\ 36.5 0.053 nan\\ 37 0.053 nan\\ 37.5 nan nan\\ 38 0.053 nan\\ 38.5 0.053 nan\\
39 0.053 0.011\\ 39.5 0.053 0.011\\ 40 0.053 0.011\\ 40.5 0.053 0.011\\ 41 0.053 0.011\\ 41.5 0.053 0.011\\
42 0.053 nan\\ 42.5 0.053 nan\\ 43 0.053 nan\\ 43.5 0.053 nan\\ 44 0.053 nan\\ 44.5 0.053 nan\\
45 0.053 nan\\ 45.5 0.053 nan\\ 46 0.053 0.011\\ 46.5 0.053 0.011\\ 47 0.053 0.011\\ 47.5 0.053 0.011\\
48 0.053 0.011\\ 48.5 0.053 0.011\\ 49 0.053 0.011\\ 49.5 0.053 0.011\\ 50 nan 0.011\\ 50.5 0.053 0.011\\
51 0.053 0.011\\ 51.5 0.053 0.011\\ 52 0.053 0.011\\ 52.5 0.053 0.011\\ 53 0.053 0.011\\ 53.5 0.053 0.011\\
54 0.053 0.011\\ 54.5 0.053 0.011\\ 55 0.053 0.011\\ 55.5 0.053 0.011\\ 56 0.053 0.011\\ 56.5 0.053 nan\\
57 0.053 nan\\ 57.5 0.053 nan\\ 58 0.053 nan\\ 58.5 0.053 0.011\\ 59 0.053 0.011\\ 59.5 0.053 0.011\\
60 nan 0.011\\ 60.5 0.053 0.011\\ 61 0.053 0.011\\ 61.5 0.053 0.011\\ 62 0.053 0.011\\ 62.5 0.053 0.011\\
63 0.053 0.011\\ 63.5 0.053 0.011\\ 64 0.053 0.011\\ 64.5 0.053 0.011\\ 65 0.053 0.011\\ 65.5 0.053 0.011\\
66 0.053 0.011\\ 66.5 0.053 0.011\\ 67 0.053 0.011\\ 67.5 0.053 0.011\\ 68 0.053 0.011\\ 68.5 0.053 0.011\\
69 0.053 0.011\\ 69.5 0.053 nan\\ 70 0.053 nan\\ 70.5 0.053 nan\\ 71 0.053 0.011\\ 71.5 0.053 0.011\\ 72 0.053 0.011\\
}\RthreeR
\begin{document}
\begin{tikzpicture}[font=\fontsize{10}{12}\selectfont]
\path[use as bounding box] (0,0) rectangle (600pt,675pt);
% ---------- Row 1 ----------
\begin{semilogyaxis}[stpanel, at={(60pt,522.75pt)}, ymin=1e-3, ymax=1e7,
  ytick={1e-2,1,1e2,1e4,1e6}, yticklabels={\tn{−2},\tn{0},\tn{2},\tn{4},\tn{6}},
  extra y ticks={1e-1,1e1,1e3,1e5}, extra y tick labels={}]
\addplot[stdots, black] table[x=t,y=bk]{\RoneL};
\addplot[stdots, black] table[x=t,y=bk]{\RoneLb};
\addplot[stdots, blue] table[x=t,y=bl]{\RoneL};
\addplot[stdots, blue] table[x=t,y=bl]{\RoneLb};
\end{semilogyaxis}
\begin{semilogyaxis}[stpanel, at={(360pt,522.75pt)}, ymin=1e-3, ymax=1e7,
  ytick={1e-2,1,1e2,1e4,1e6}, yticklabels={\tn{−2},\tn{0},\tn{2},\tn{4},\tn{6}},
  extra y ticks={1e-1,1e1,1e3,1e5}, extra y tick labels={}]
\addplot[stdots, black] table[x=t,y=bk]{\RoneR};
\addplot[stdots, black] table[x=t,y=bk]{\RoneRb};
\addplot[stdots, blue] table[x=t,y=bl]{\RoneR};
\addplot[stdots, blue] table[x=t,y=bl]{\RoneRb};
\end{semilogyaxis}
% ---------- Row 2 ----------
\begin{semilogyaxis}[stpanel, at={(60pt,360.75pt)}, ymin=1e-5, ymax=1e6,
  ytick={1e-4,1e-2,1,1e2,1e4,1e6}, yticklabels={\tn{−4},\tn{−2},\tn{0},\tn{2},\tn{4},\tn{6}},
  extra y ticks={1e-3,1e-1,1e1,1e3,1e5}, extra y tick labels={}]
\addplot[stdots, black] table[x=t,y=bk]{\RtwoL};
\addplot[stdots, blue] table[x=t,y=bl]{\RtwoL};
\addplot[stdots, brn] table[x=t,y=br]{\RtwoL};
\addplot[stdots, red] table[x=t,y=rd]{\RtwoL};
\addplot[stdots, red] table[x=t,y=rd]{\RtwoLb};
\end{semilogyaxis}
\begin{semilogyaxis}[stpanel, at={(360pt,360.75pt)}, ymin=1e-5, ymax=1e6,
  ytick={1e-4,1e-2,1,1e2,1e4,1e6}, yticklabels={\tn{−4},\tn{−2},\tn{0},\tn{2},\tn{4},\tn{6}},
  extra y ticks={1e-3,1e-1,1e1,1e3,1e5}, extra y tick labels={}]
\addplot[stdots, black] table[x=t,y=bk]{\RtwoR};
\addplot[stdots, blue] table[x=t,y=bl]{\RtwoR};
\addplot[stdots, brn] table[x=t,y=br]{\RtwoR};
\addplot[stdots, red] table[x=t,y=rd]{\RtwoR};
\addplot[stdots, red] table[x=t,y=rd]{\RtwoRb};
\end{semilogyaxis}
% ---------- Row 3 ----------
\begin{semilogyaxis}[stpanel, at={(60pt,198.75pt)}, ymin=1e-3, ymax=1e4,
  ylabel={1/(cm\textsuperscript{2} s sr MeV/nuc.)},
  ytick={1e-3,1e-1,1e1,1e3}, yticklabels={\tn{−3},\tn{−1},\tn{1},\tn{3}},
  extra y ticks={1e-2,1,1e2,1e4}, extra y tick labels={\tn{−2},\tn{0},\tn{2},\tn{4}}]
\addplot[stdots, black] table[x=t,y=hA]{\RthreeL};
\addplot[stdots, black] table[x=t,y=hB]{\RthreeL};
\addplot[stdots, black] coordinates {(1.5,0.16)(4,0.2)(8.5,0.14)(13,0.18)(13.5,0.22)(14.5,0.19)(15,0.15)(22,0.15)(24.5,0.18)(26,0.2)(26.5,0.3)(27,0.25)(28,0.22)(29,0.35)(30,0.28)(31,0.2)(32,0.24)(33,0.3)(34,0.4)(34.5,0.28)(35,0.5)(35.5,0.35)(36,0.45)(36.5,0.3)(37,0.6)(37.5,0.4)(38,0.3)(38.5,0.55)(39,0.35)(39.5,0.42)(40,0.9)(40.5,0.5)(41,0.3)(41.5,0.38)(42,0.45)(42.5,0.33)(43,0.25)(45,0.18)(47,0.16)(50,0.15)(52,0.2)(53.5,0.28)(54.5,0.2)(55.5,0.4)(56.5,0.22)(57.5,0.6)(58.5,0.38)(59.5,0.8)(60.5,0.5)(61.5,1.1)(62.5,0.7)(63.5,1.6)(64.5,1.2)(65.5,4.5)(66.5,11)(67.5,17)(68.5,14)(69.5,10)(70.5,6.5)(71.5,9)(71.8,22)};
\addplot[stdots, blue] table[x=t,y=cA]{\RthreeL};
\addplot[stdots, blue] coordinates {(10,0.023)(11,0.023)(15.5,0.023)(16,0.036)(17,0.036)(24.5,0.023)(28,0.036)(30,0.023)(30.5,0.036)(31,0.023)(32,0.036)(38,0.036)(40,0.023)(44,0.023)(46,0.036)(55,0.023)(56,0.023)(58,0.023)(59.5,0.023)(61,0.023)(62,0.023)(63,0.023)(64,0.023)(65,0.023)(66,0.023)(67,0.023)(68,0.023)(69,0.023)(70.5,0.023)(71.5,0.023)(61,0.04)(62,0.05)(62.5,0.04)(63,0.06)(63.5,0.045)(64,0.07)(64.5,0.05)(65,0.08)(65.5,0.06)(66,0.12)(66.5,0.09)(66.8,0.18)(67,0.07)(67.5,0.15)(68,0.1)(68.5,0.19)(69,0.08)(69.5,0.13)(70,0.06)(70.5,0.1)(71,0.07)(71.5,0.12)(72,0.2)};
\addplot[stdots, red] coordinates {(0.5,0.011)(1,0.011)(11,0.011)(17,0.011)(18,0.011)(20,0.011)(23.5,0.011)(24,0.011)(37,0.011)(37.5,0.011)(39,0.011)(48,0.011)(53.5,0.011)(54,0.011)(59,0.011)(67,0.011)(67.5,0.011)(68,0.011)(68.5,0.011)(70,0.011)(71,0.011)(71.5,0.011)(66.5,0.023)};
\end{semilogyaxis}
\begin{semilogyaxis}[stpanel, at={(360pt,198.75pt)}, ymin=1e-3, ymax=1e4,
  ylabel={1/(cm\textsuperscript{2} s sr MeV/nuc.)},
  ytick={1e-3,1e-1,1e1,1e3}, yticklabels={\tn{−3},\tn{−1},\tn{1},\tn{3}},
  extra y ticks={1e-2,1,1e2,1e4}, extra y tick labels={\tn{−2},\tn{0},\tn{2},\tn{4}}]
\addplot[stdots, black] coordinates {(0.5,0.1)(1,0.1)(1.5,0.1)(2,0.1)(2.5,0.1)(3,0.1)(3.5,0.1)(4,0.1)(7,0.1)(9.5,0.1)(10,0.1)(10.5,0.1)(11,0.1)(11.5,0.1)(12,0.1)(12.5,0.1)(13,0.1)(13.5,0.1)(14,0.1)(14.5,0.1)(15,0.1)(15.5,0.1)(16,0.1)(16.5,0.1)(17,0.1)(17.5,0.1)(18,0.1)(18.5,0.1)(21,0.1)(25,0.1)(26,0.1)(27,0.1)(28,0.1)(29,0.1)(31.5,0.1)(35,0.1)(39,0.1)(39.5,0.1)(40,0.1)(40.5,0.1)(43,0.1)(43.5,0.1)(44,0.1)(44.5,0.1)(47,0.1)(47.5,0.1)(48,0.1)(48.5,0.1)(49,0.1)(49.5,0.1)(50,0.1)(50.5,0.1)(51,0.1)(53,0.1)(53.5,0.1)(54,0.1)(57,0.1)(62.5,0.1)(63,0.1)(63.5,0.1)(64,0.1)(67.5,0.1)(0.5,0.15)(1,0.14)(1.5,0.15)(42,0.16)(62.8,0.15)(63.5,0.14)};
\addplot[stdots, black] table[x=t,y=hB]{\RthreeR};
\addplot[stdots, blue] table[x=t,y=cA]{\RthreeR};
\addplot[stdots, blue] coordinates {(0.8,0.03)(6.3,0.03)(19,0.03)(30,0.03)(40.5,0.03)(55,0.03)(57.6,0.03)(58.8,0.03)(60.8,0.03)(63.2,0.03)(67.7,0.03)};
\addplot[stdots, red] coordinates {(1.2,0.011)(22.3,0.011)(28.4,0.011)(33.7,0.011)(40.1,0.011)(56,0.011)(63.2,0.011)};
\end{semilogyaxis}
% ---------- Row 4 ----------
\begin{semilogyaxis}[stpanel, at={(60pt,36.75pt)}, ymin=1e-5, ymax=1e3,
  ylabel={1/(cm\textsuperscript{2} s sr MeV/nuc.)},
  xticklabels={09-Jun,10-Jun,11-Jun,12-Jun},
  ytick={1e-4,1e-2,1,1e2}, yticklabels={\tn{−4},\tn{−2},\tn{0},\tn{2}},
  extra y ticks={1e-3,1e-1,1e1}, extra y tick labels={}]
\addplot[stdots, black] coordinates {(0.5,1e-4)(1,1e-4)(1.5,1e-4)(2,1e-4)(3.5,1e-4)(4,1e-4)(4.5,1e-4)(5,1e-4)(6,1e-4)(7,1e-4)(8,1e-4)(9,1e-4)(11.5,1e-4)(14.5,1e-4)(15,1e-4)(15.5,1e-4)(16,1e-4)(22.5,1e-4)(23,1e-4)(23.5,1e-4)(24,1e-4)(24.5,1e-4)(25.5,1e-4)(26,1e-4)(26.5,1e-4)(27,1e-4)(29.5,1e-4)(30,1e-4)(30.5,1e-4)(31,1e-4)(31.5,1e-4)(32,1e-4)(32.5,1e-4)(33,1e-4)(33.5,1e-4)(34,1e-4)(34.5,1e-4)(35,1e-4)(37,1e-4)(37.5,1e-4)(38,1e-4)(38.5,1e-4)(39,1e-4)(39.5,1e-4)(40,1e-4)(40.5,1e-4)(43.5,1e-4)(44,1e-4)(44.5,1e-4)(45,1e-4)(45.5,1e-4)(46,1e-4)(46.5,1e-4)(47,1e-4)(48.5,1e-4)(49,1e-4)(49.5,1e-4)(50,1e-4)(50.5,1e-4)(51,1e-4)(52,1e-4)(53,1e-4)(53.5,1e-4)(54,1e-4)(57.5,1e-4)(58,1e-4)(58.5,1e-4)(59,1e-4)(59.5,1e-4)(60,1e-4)(60.5,1e-4)(61,1e-4)(61.5,1e-4)(62,1e-4)(62.5,1e-4)(63,1e-4)(63.5,1e-4)(64,1e-4)(64.5,1e-4)(65,1e-4)(65.5,1e-4)(66,1e-4)(66.5,1e-4)(69,1e-4)(69.5,1e-4)(70.5,1e-4)(71,1e-4)(71.5,1e-4)(72,1e-4)(0.6,2e-4)(6.3,2e-4)(22.9,2e-4)(35,2e-4)(37.7,2e-4)(38.2,2e-4)(41.9,2e-4)(53.5,3e-4)(61.4,3e-4)(67.2,2e-4)};
\addplot[stdots, blue] coordinates {(2.5,1e-4)(3,1e-4)(12,1e-4)(12.5,1e-4)(13,1e-4)(16.5,1e-4)(17,1e-4)(18,1e-4)(18.5,1e-4)(19,1e-4)(19.5,1e-4)(27.5,1e-4)(28,1e-4)(28.5,1e-4)(29,1e-4)(35.5,1e-4)(36,1e-4)(36.5,1e-4)(42,1e-4)(42.5,1e-4)(43,1e-4)(52.5,1e-4)(54.5,1e-4)(55,1e-4)(55.5,1e-4)(56,1e-4)(67.5,1e-4)(68,1e-4)(68.5,1e-4)(20.4,1.15e-5)(35.9,1.15e-5)(44.6,1.15e-5)(70.7,1.15e-5)};
\end{semilogyaxis}
\begin{semilogyaxis}[stpanel, at={(360pt,36.75pt)}, ymin=1e-5, ymax=1e3,
  ylabel={1/(cm\textsuperscript{2} s sr MeV/nuc.)},
  xticklabels={09-Jun,10-Jun,11-Jun,12-Jun},
  ytick={1e-4,1e-2,1,1e2}, yticklabels={\tn{−4},\tn{−2},\tn{0},\tn{2}},
  extra y ticks={1e-3,1e-1,1e1}, extra y tick labels={}]
\addplot[stdots, black] coordinates {(5.5,1e-4)(6,1e-4)(6.5,1e-4)(7.5,1e-4)(8,1e-4)(8.5,1e-4)(9,1e-4)(10.5,1e-4)(11,1e-4)(11.5,1e-4)(12.5,1e-4)(13,1e-4)(13.5,1e-4)(14,1e-4)(14.5,1e-4)(15,1e-4)(15.5,1e-4)(16.5,1e-4)(17,1e-4)(17.5,1e-4)(18,1e-4)(19.5,1e-4)(20,1e-4)(20.5,1e-4)(21,1e-4)(22.5,1e-4)(23,1e-4)(23.5,1e-4)(24,1e-4)(24.5,1e-4)(25,1e-4)(25.5,1e-4)(26,1e-4)(26.5,1e-4)(27,1e-4)(27.5,1e-4)(28,1e-4)(28.5,1e-4)(29,1e-4)(29.5,1e-4)(30,1e-4)(30.5,1e-4)(31,1e-4)(31.5,1e-4)(32,1e-4)(32.5,1e-4)(37.5,1e-4)(39.5,1e-4)(43,1e-4)(43.5,1e-4)(44,1e-4)(44.5,1e-4)(45,1e-4)(45.5,1e-4)(48,1e-4)(48.5,1e-4)(49,1e-4)(49.5,1e-4)(51,1e-4)(51.5,1e-4)(52,1e-4)(52.5,1e-4)(53,1e-4)(53.5,1e-4)(54,1e-4)(54.5,1e-4)(55,1e-4)(56.5,1e-4)(57,1e-4)(57.5,1e-4)(58,1e-4)(58.5,1e-4)(59,1e-4)(59.5,1e-4)(60,1e-4)(61,1e-4)(61.5,1e-4)(62,1e-4)(62.5,1e-4)(63,1e-4)(63.5,1e-4)(64,1e-4)(64.5,1e-4)(67,1e-4)(67.5,1e-4)(68,1e-4)(68.5,1e-4)(69,1e-4)(69.5,1e-4)(70,1e-4)(70.5,1e-4)(71,1e-4)(71.5,1e-4)(72,1e-4)(10.5,2e-4)(34.7,2e-4)(37.7,2e-4)(38.2,2e-4)(56,2e-4)(61,2e-4)};
\addplot[stdots, blue] coordinates {(0.5,1e-4)(1,1e-4)(1.5,1e-4)(3,1e-4)(3.5,1e-4)(4,1e-4)(33,1e-4)(33.5,1e-4)(34,1e-4)(42,1e-4)(46,1e-4)(46.5,1e-4)(47,1e-4)(47.5,1e-4)(50,1e-4)(65,1e-4)(65.5,1e-4)(66,1e-4)(66.5,1e-4)(6.3,1.15e-5)(8.1,1.15e-5)(70,1.15e-5)};
\addplot[stdots, red] coordinates {(29.6,1.15e-5)(58,1.15e-5)};
\end{semilogyaxis}
% ---------- Titles ----------
\node[anchor=base west, inner sep=0] at (60pt,661.9pt) {0.035 to 0.065 MeV Electrons};
\node[anchor=base west, inner sep=0, text=blue] at (246.2pt,661.9pt) {0.7 to 4.0 Mev Electrons};
\node[anchor=base west, inner sep=0] at (60pt,500.4pt) {0.14-0.62 MeV H};
\node[anchor=base west, inner sep=0, text=blue] at (168.75pt,500.4pt) {0.62-2.22 MeV H};
\node[anchor=base west, inner sep=0, text=brn] at (271.3pt,500.4pt) {2.2-12 MeV H};
\node[anchor=base west, inner sep=0, text=red] at (366.2pt,500.4pt) {13-100 MeV H};
\node[anchor=base west, inner sep=0] at (60pt,340.4pt) {0.12-1.08 MeV/n He};
\node[anchor=base west, inner sep=0, text=blue] at (186.2pt,340.4pt) {0.12-1.08 MeV/n CNO};
\node[anchor=base west, inner sep=0, text=red] at (318.75pt,340.4pt) {0.12-1.08 MeV Fe};
\node[anchor=base west, inner sep=0] at (60pt,175.35pt) {4 to 12 MeV/n He};
\node[anchor=base west, inner sep=0, text=blue] at (174.5pt,175.35pt) {4 to 12 MeV/n CNO};
\node[anchor=base west, inner sep=0, text=red] at (293.8pt,175.35pt) {4 to 12 MeV Fe};
% ---------- Footer ----------
\node[anchor=base west, inner sep=0] at (60pt,10.9pt) {STEREO Behind};
\node[anchor=base west, inner sep=0] at (221.25pt,10.9pt) {Start:\ \ 9-Jun-2010 00:00 UTC};
\node[anchor=base east, inner sep=0] at (582pt,10.9pt) {STEREO Ahead};
\end{tikzpicture}
\end{document}
